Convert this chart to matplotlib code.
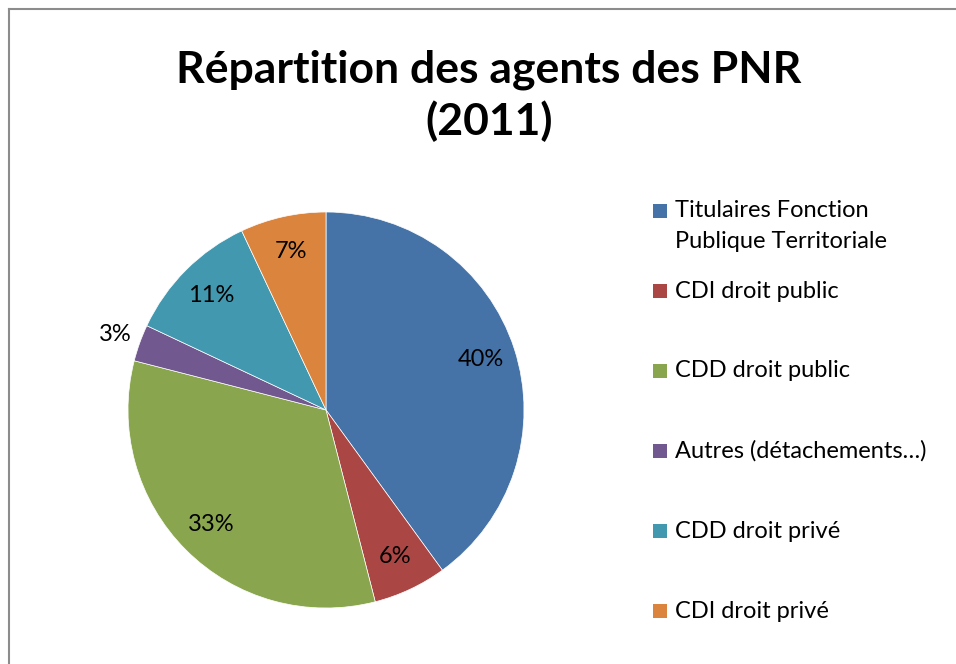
import matplotlib
matplotlib.use("Agg")
import matplotlib.pyplot as plt
from matplotlib.patches import Rectangle
from matplotlib.lines import Line2D
import numpy as np

plt.rcParams['font.family'] = ['Lato', 'DejaVu Sans']

title = "Répartition des agents des PNR\n(2011)"
categories = ["Titulaires Fonction\nPublique Territoriale", "CDI droit public",
              "CDD droit public", "Autres (détachements…)", "CDD droit privé",
              "CDI droit privé"]
values = [40, 6, 33, 3, 11, 7]
colors = ["#4572A7", "#AA4643", "#89A54E", "#71588F", "#4198AF", "#DB843D"]

W, H = 956, 664
fig = plt.figure(figsize=(W / 100, H / 100), dpi=100)

# frame (left and top borders)
fig.add_artist(Line2D([9 / W, 9 / W], [0, 1 - 9 / H], transform=fig.transFigure,
                      color="#8c8c8c", lw=1.5))
fig.add_artist(Line2D([9 / W, 1], [1 - 9 / H, 1 - 9 / H], transform=fig.transFigure,
                      color="#8c8c8c", lw=1.5))

fig.text(489 / W, 1 - 96 / H, title, ha="center", va="center", fontsize=32,
         fontweight="bold", linespacing=1.3)

# pie axes: center (326, 410), radius 198
r = 198
ax = fig.add_axes([(326 - r) / W, 1 - (410 + r) / H, 2 * r / W, 2 * r / H])
wedges, texts, autotexts = ax.pie(values, colors=colors, startangle=90, counterclock=False,
                                  autopct=lambda p: f"{p:.0f}%", pctdistance=0.82,
                                  wedgeprops=dict(edgecolor="white", linewidth=0.5),
                                  textprops=dict(fontsize=17, color="black"))
ax.set_xlim(-1, 1)
ax.set_ylim(-1, 1)
ax.set_aspect("equal")
# 3% label outside
w = wedges[3]
ang = np.deg2rad((w.theta1 + w.theta2) / 2)
autotexts[3].set_position((1.13 * np.cos(ang), 1.13 * np.sin(ang)))

# legend drawn manually
lx, ty, step = 660, 211, 80
for i, (lab, col) in enumerate(zip(categories, colors)):
    y = ty + i * step
    fig.add_artist(Rectangle(((lx - 7) / W, 1 - (y + 7) / H), 14 / W, 14 / H,
                             transform=fig.transFigure, facecolor=col, edgecolor="none"))
    for j, ln in enumerate(lab.split("\n")):
        fig.text((lx + 15) / W, 1 - (y + j * 31) / H, ln,
                 ha="left", va="center", fontsize=17)

fig.savefig("out.png", dpi=100)
